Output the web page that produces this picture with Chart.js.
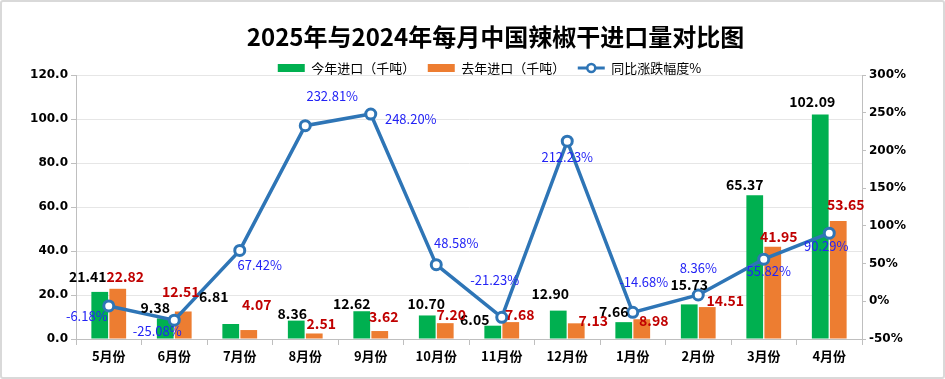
<!DOCTYPE html>
<html><head><meta charset="utf-8">
<script src="https://cdn.jsdelivr.net/npm/chart.js@4/dist/chart.umd.min.js"></script>
<style>
html,body{margin:0;padding:0;background:#fff;}
#wrap{position:relative;width:945px;height:379px;}
#frame{position:absolute;left:0;top:0;width:945px;height:379px;box-sizing:border-box;border:2px solid #d9d9d9;border-radius:3px;pointer-events:none;}
canvas{position:absolute;left:0;top:0;}
</style></head><body>
<div id="wrap"><canvas id="c" width="945" height="379"></canvas><div id="frame"></div></div>
<script>
// ---- data ----
const categories = ['5月份','6月份','7月份','8月份','9月份','10月份','11月份','12月份','1月份','2月份','3月份','4月份'];
const thisYear = [21.41, 9.38, 6.81, 8.36, 12.62, 10.70, 6.05, 12.90, 7.66, 15.73, 65.37, 102.09];
const lastYear = [22.82, 12.51, 4.07, 2.51, 3.62, 7.20, 7.68, 7.13, 8.98, 14.51, 41.95, 53.65];
const yoyPct = [-6.18, -25.08, 67.42, 232.81, 248.20, 48.58, -21.23, 212.23, -14.68, 8.36, 55.82, 90.29];
const leftTicks = [0, 20, 40, 60, 80, 100, 120];
const rightTicks = [-50, 0, 50, 100, 150, 200, 250, 300];
const seriesNames = ['今年进口（千吨）', '去年进口（千吨）', '同比涨跌幅度%'];
const titleText = '2025年与2024年每月中国辣椒干进口量对比图';

// ---- label nudges (style only): [dx, distance above bar top] and [dx, dy] for points ----
const thisYearLabelNudge = [[-12,15],[-10,11],[-17,27],[-4,7],[-10,8],[-1,12],[-18,6],[-8,17],[-10,10],[0,20],[-10,10],[-8,13]];
const lastYearLabelNudge = [[7.5,12],[-2.5,20],[8,25],[7,9.5],[4,14],[6,8],[9,7],[17,3],[12,-1],[18,6],[6,10],[7.5,16]];
const pctLabelNudge = [[-22,10],[-17,11],[20,15],[27,-30],[40,5],[20,-22],[-7,-37],[0,16],[11,-30],[0,-27],[5,12],[-3,13]];
const titleShift = 23, legendShift = 17;

const GREEN = '#00B050', ORANGE = '#ED7D31', BLUE = '#2E75B6';
const CJK = "'Noto Sans CJK SC', 'Noto Sans', sans-serif";

const labelPlugin = {
  id: 'valueLabels',
  afterLayout(chart) {
    const t = chart.titleBlock;
    if (t) { t.left += titleShift; t.right += titleShift; }
    const l = chart.legend;
    if (l) { l.left += legendShift; l.right += legendShift; }
  },
  afterDatasetsDraw(chart) {
    const ctx = chart.ctx;
    ctx.save();
    ctx.textAlign = 'center';
    ctx.textBaseline = 'middle';
    const m0 = chart.getDatasetMeta(0), m1 = chart.getDatasetMeta(1), m2 = chart.getDatasetMeta(2);
    ctx.font = "bold 14px " + CJK;
    m0.data.forEach((el, i) => {
      ctx.fillStyle = '#000000';
      ctx.fillText(thisYear[i].toFixed(2), el.x + thisYearLabelNudge[i][0], el.y - thisYearLabelNudge[i][1]);
    });
    m1.data.forEach((el, i) => {
      ctx.fillStyle = '#C00000';
      ctx.fillText(lastYear[i].toFixed(2), el.x + lastYearLabelNudge[i][0], el.y - lastYearLabelNudge[i][1]);
    });
    ctx.font = "13px " + CJK;
    m2.data.forEach((el, i) => {
      ctx.fillStyle = '#2323F5';
      ctx.fillText(yoyPct[i].toFixed(2) + '%', el.x + pctLabelNudge[i][0], el.y + pctLabelNudge[i][1]);
    });
    ctx.restore();
  },
  afterDraw(chart) {
    const lg = chart.legend;
    if (!lg || !lg.legendHitBoxes || !lg.legendHitBoxes[2]) return;
    const hb = lg.legendHitBoxes[2];
    const ctx = chart.ctx;
    const cy = hb.top + hb.height / 2;
    ctx.save();
    ctx.strokeStyle = BLUE;
    ctx.lineWidth = 3;
    ctx.beginPath();
    ctx.moveTo(hb.left, cy);
    ctx.lineTo(hb.left + 27, cy);
    ctx.stroke();
    ctx.beginPath();
    ctx.arc(hb.left + 13.5, cy, 4, 0, Math.PI * 2);
    ctx.fillStyle = '#fff';
    ctx.fill();
    ctx.lineWidth = 2.5;
    ctx.stroke();
    ctx.restore();
  }
};

new Chart(document.getElementById('c'), {
  data: {
    labels: categories,
    datasets: [
      { type: 'bar', label: seriesNames[0], data: thisYear, backgroundColor: GREEN, yAxisID: 'y', order: 2,
        categoryPercentage: 0.55, barPercentage: 0.93 },
      { type: 'bar', label: seriesNames[1], data: lastYear, backgroundColor: ORANGE, yAxisID: 'y', order: 2,
        categoryPercentage: 0.55, barPercentage: 0.93 },
      { type: 'line', label: seriesNames[2], data: yoyPct, yAxisID: 'y1', order: 1,
        borderColor: BLUE, backgroundColor: '#fff', borderWidth: 3.5, tension: 0,
        pointRadius: 5, pointBorderWidth: 3, pointBackgroundColor: '#ffffff', pointBorderColor: BLUE }
    ]
  },
  options: {
    responsive: false,
    animation: false,
    layout: { padding: { left: 0, right: 0, top: 0, bottom: 0 } },
    plugins: {
      title: { display: true, text: titleText, color: '#000',
        font: { family: CJK, size: 24, weight: 'bold', lineHeight: 1 },
        padding: { top: 25, bottom: 0 } },
      legend: {
        display: true, position: 'top', maxHeight: 26,
        labels: {
          color: '#000', font: { family: CJK, size: 13 }, boxWidth: 27, boxHeight: 8, padding: 12.5,
          sort: (a, b) => a.datasetIndex - b.datasetIndex,
          generateLabels(chart) {
            return chart.data.datasets.map((ds, i) => ({
              text: ds.label, datasetIndex: i,
              fillStyle: i === 2 ? 'rgba(0,0,0,0)' : ds.backgroundColor,
              strokeStyle: 'rgba(0,0,0,0)', lineWidth: 0, hidden: false, fontColor: '#000'
            }));
          }
        }
      },
      tooltip: { enabled: false }
    },
    scales: {
      x: {
        grid: { offset: true, drawOnChartArea: false, tickLength: 6, tickColor: '#bfbfbf', color: '#bfbfbf' },
        border: { color: '#bfbfbf', width: 1 },
        ticks: { color: '#000', font: { family: CJK, size: 13, weight: 'bold' }, padding: 3, maxRotation: 0 },
        afterFit(s) { s.height = 40; }
      },
      y: {
        position: 'left',
        min: leftTicks[0], max: leftTicks[leftTicks.length - 1],
        afterBuildTicks(s) { s.ticks = leftTicks.map(v => ({ value: v })); },
        grid: { color: '#e6e6e6', tickColor: '#bfbfbf', tickLength: 5 },
        border: { color: '#bfbfbf', width: 1 },
        ticks: { color: '#000', font: { family: "'DejaVu Sans', sans-serif", size: 12, weight: 'bold' }, padding: 3,
          callback: v => Number(v).toFixed(1) },
        afterFit(s) { s.width = 76; }
      },
      y1: {
        position: 'right',
        min: rightTicks[0], max: rightTicks[rightTicks.length - 1],
        afterBuildTicks(s) { s.ticks = rightTicks.map(v => ({ value: v })); },
        grid: { drawOnChartArea: false, tickColor: '#bfbfbf', tickLength: 4 },
        border: { color: '#bfbfbf', width: 1 },
        ticks: { color: '#000', font: { family: "'DejaVu Sans', sans-serif", size: 12, weight: 'bold' }, padding: 3,
          callback: v => v + '%' },
        afterFit(s) { s.width = 83; }
      }
    }
  },
  plugins: [labelPlugin]
});
</script>
</body></html>
